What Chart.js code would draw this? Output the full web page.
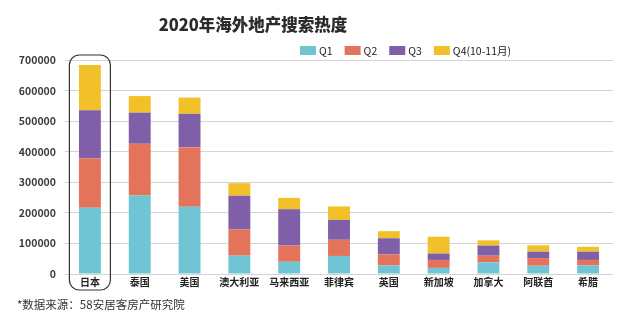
<!DOCTYPE html>
<html><head><meta charset="utf-8">
<script src="https://cdn.jsdelivr.net/npm/chart.js@4/dist/chart.umd.min.js"></script>
<style>html,body{margin:0;padding:0;background:#fff;}#wrap{width:640px;height:324px;position:relative;}</style>
</head><body><div id="wrap"><canvas id="c" width="640" height="324"></canvas></div>
<script>
const categories = ['日本','泰国','美国','澳大利亚','马来西亚','菲律宾','英国','新加坡','加拿大','阿联酋','希腊'];
const q1 = [217000,257000,220000,60000,40000,59000,28000,20000,38000,27000,28000];
const q2 = [162000,169000,194000,86000,53000,53000,36000,26000,22000,25000,18000];
const q3 = [157000,102000,110000,110000,119000,65000,53000,21000,33000,21000,27000];
const q4 = [148000,54000,53000,41000,37000,44000,23000,55000,17000,21000,16000];
const seriesNames = ['Q1','Q2','Q3','Q4(10-11月)'];
const seriesColors = ['#6fc5d3','#e3735b','#7f5fa7','#f2c12a'];
const titleText = '2020年海外地产搜索热度';
const sourceText = '*数据来源：58安居客房产研究院';
const yMax = 700000, yStep = 100000;
const FONT = '"Noto Sans CJK SC", "Noto Sans", sans-serif';

const extras = {
  id: 'extras',
  afterDraw(chart) {
    const ctx = chart.ctx;
    const xs = chart.scales.x;
    ctx.save();
    // title
    ctx.fillStyle = '#2b2b2b';
    ctx.font = '900 16.5px ' + FONT;
    ctx.textAlign = 'center'; ctx.textBaseline = 'middle';
    ctx.fillText(titleText, 253, 25);
    // legend
    ctx.font = '10.5px ' + FONT;
    ctx.textAlign = 'left';
    let lx = 300;
    chart.data.datasets.forEach(ds => {
      ctx.fillStyle = ds.backgroundColor;
      ctx.fillRect(lx, 46, 16, 9);
      ctx.fillStyle = '#222';
      ctx.fillText(ds.label, lx + 19, 51);
      lx += 19 + ctx.measureText(ds.label).width + 12;
    });
    // footnote
    ctx.font = '11.5px ' + FONT;
    ctx.fillStyle = '#333';
    ctx.fillText(sourceText, 17, 305);
    // highlight box around first category
    const cx = xs.getPixelForValue(0);
    const left = cx - 20.5, right = cx + 20.5, top = 55, bottom = 290, r = 10;
    ctx.strokeStyle = '#333'; ctx.lineWidth = 1.2;
    ctx.beginPath();
    ctx.moveTo(left + r, top);
    ctx.lineTo(right - r, top); ctx.arcTo(right, top, right, top + r, r);
    ctx.lineTo(right, bottom - r); ctx.arcTo(right, bottom, right - r, bottom, r);
    ctx.lineTo(left + r, bottom); ctx.arcTo(left, bottom, left, bottom - r, r);
    ctx.lineTo(left, top + r); ctx.arcTo(left, top, left + r, top, r);
    ctx.closePath(); ctx.stroke();
    ctx.restore();
  }
};

const seriesData = [q1, q2, q3, q4];
new Chart(document.getElementById('c'), {
  type: 'bar',
  data: {
    labels: categories,
    datasets: seriesData.map((d, i) => ({
      label: seriesNames[i], data: d, backgroundColor: seriesColors[i],
      borderWidth: 0, categoryPercentage: 1, barPercentage: 0.44
    }))
  },
  options: {
    responsive: false, animation: false, devicePixelRatio: 1,
    layout: { padding: { left: 0, right: 27, top: 60, bottom: 0 } },
    plugins: { legend: { display: false }, title: { display: false }, tooltip: { enabled: false } },
    scales: {
      x: {
        stacked: true,
        grid: { display: false, drawTicks: false },
        border: { display: false },
        ticks: { padding: 2, color: '#222', font: { family: FONT, size: 10, weight: 'bold' } },
        afterFit(s) { s.height = 50; }
      },
      y: {
        stacked: true, min: 0, max: yMax,
        ticks: { stepSize: yStep, padding: 9, color: '#3a3a3a', font: { family: FONT, size: 10.5, weight: 'bold' },
          callback: v => String(v) },
        grid: { color: '#d4d4d4', lineWidth: 1, drawTicks: false },
        border: { display: false },
        afterFit(s) { s.width = 65; }
      }
    }
  },
  plugins: [extras]
});
</script></body></html>
